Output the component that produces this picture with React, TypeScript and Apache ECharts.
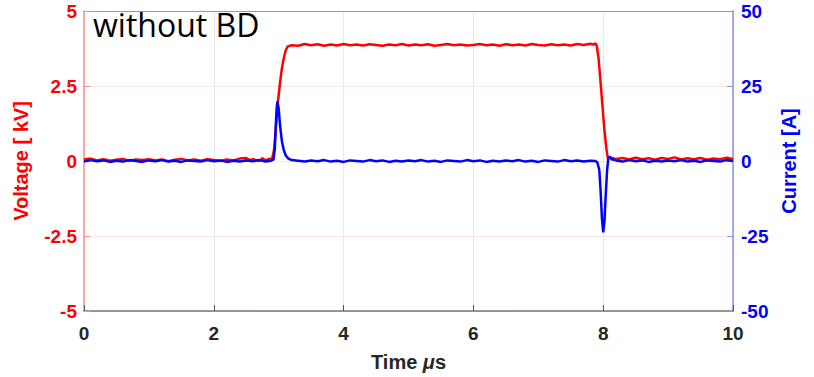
import React, { useEffect, useRef } from "react";
import * as echarts from "echarts";

// Time [µs], Voltage [kV]
const voltageData: [number, number][] = [
  [0, 0.05], [0.1, 0.08], [0.2, 0.02], [0.3, 0.06], [0.4, 0.01], [0.5, 0.04], [0.6, 0.07], [0.7, 0.0],
  [0.8, 0.05], [0.9, 0.03], [1.0, 0.06], [1.1, 0.02], [1.2, 0.05], [1.3, -0.01], [1.4, 0.04], [1.5, 0.07],
  [1.6, 0.02], [1.7, 0.05], [1.8, 0.01], [1.9, 0.06], [2.0, 0.03], [2.1, 0.0], [2.2, 0.05], [2.3, 0.02],
  [2.4, 0.08], [2.5, 0.1], [2.55, 0.03], [2.6, 0.06], [2.7, 0.0], [2.75, 0.09], [2.8, 0.02], [2.85, 0.07],
  [2.9, 0.08], [2.93, 0.4], [2.96, 1.2], [2.99, 2.0], [3.02, 2.6], [3.05, 3.1], [3.08, 3.45], [3.11, 3.7],
  [3.14, 3.82], [3.2, 3.86], [3.3, 3.84], [3.4, 3.9], [3.5, 3.86], [3.6, 3.89], [3.7, 3.84], [3.8, 3.88],
  [3.9, 3.85], [4.0, 3.9], [4.1, 3.86], [4.2, 3.88], [4.3, 3.85], [4.4, 3.89], [4.5, 3.87], [4.6, 3.84],
  [4.7, 3.88], [4.8, 3.86], [4.9, 3.9], [5.0, 3.85], [5.1, 3.88], [5.2, 3.86], [5.3, 3.89], [5.4, 3.84],
  [5.5, 3.87], [5.6, 3.9], [5.7, 3.86], [5.8, 3.88], [5.9, 3.85], [6.0, 3.87], [6.1, 3.9], [6.2, 3.86],
  [6.3, 3.88], [6.4, 3.84], [6.5, 3.89], [6.6, 3.86], [6.7, 3.88], [6.8, 3.85], [6.9, 3.9], [7.0, 3.87],
  [7.1, 3.85], [7.2, 3.89], [7.3, 3.86], [7.4, 3.88], [7.5, 3.85], [7.6, 3.9], [7.7, 3.87], [7.8, 3.91],
  [7.85, 3.88], [7.88, 3.92], [7.9, 3.85], [7.93, 3.4], [7.96, 2.6], [7.99, 1.8], [8.02, 1.0], [8.05, 0.4],
  [8.07, 0.1], [8.1, 0.12], [8.2, 0.07], [8.3, 0.1], [8.4, 0.05], [8.5, 0.11], [8.6, 0.06], [8.7, 0.09],
  [8.8, 0.04], [8.9, 0.1], [9.0, 0.07], [9.1, 0.12], [9.2, 0.05], [9.3, 0.09], [9.4, 0.06], [9.5, 0.1],
  [9.6, 0.04], [9.7, 0.08], [9.8, 0.06], [9.9, 0.11], [10.0, 0.07],
];

// Time [µs], Current [A]
const currentData: [number, number][] = [
  [0, -0.2], [0.1, 0.3], [0.2, -0.1], [0.3, 0.2], [0.4, -0.3], [0.5, 0.1], [0.6, -0.2], [0.7, 0.3],
  [0.8, 0.0], [0.9, -0.3], [1.0, 0.2], [1.1, -0.1], [1.2, 0.3], [1.3, -0.2], [1.4, 0.1], [1.5, -0.3],
  [1.6, 0.2], [1.7, 0.0], [1.8, -0.2], [1.9, 0.3], [2.0, -0.1], [2.1, 0.2], [2.2, -0.3], [2.3, 0.1],
  [2.4, -0.2], [2.5, 0.2], [2.6, -0.1], [2.7, 0.3], [2.8, -0.2], [2.88, 0.1], [2.92, 0.5], [2.94, 4],
  [2.96, 14], [2.97, 18], [2.98, 19.8], [3.0, 17.5], [3.02, 12], [3.05, 6.5], [3.08, 3.5], [3.11, 1.8],
  [3.15, 0.8], [3.2, 0.3], [3.3, 0.1], [3.4, -0.2], [3.5, 0.2], [3.6, -0.1], [3.7, 0.3], [3.8, -0.2],
  [3.9, 0.1], [4.0, -0.3], [4.1, 0.2], [4.2, 0.0], [4.3, -0.2], [4.4, 0.3], [4.5, -0.1], [4.6, 0.2],
  [4.7, -0.3], [4.8, 0.1], [4.9, -0.2], [5.0, 0.2], [5.1, -0.1], [5.2, 0.3], [5.3, -0.2], [5.4, 0.1],
  [5.5, -0.3], [5.6, 0.2], [5.7, 0.0], [5.8, -0.2], [5.9, 0.3], [6.0, -0.1], [6.1, 0.2], [6.2, -0.3],
  [6.3, 0.1], [6.4, -0.2], [6.5, 0.2], [6.6, -0.1], [6.7, 0.3], [6.8, -0.2], [6.9, 0.1], [7.0, -0.3],
  [7.1, 0.2], [7.2, 0.0], [7.3, -0.2], [7.4, 0.3], [7.5, -0.1], [7.6, 0.2], [7.7, -0.2], [7.8, 0.1],
  [7.88, 0.0], [7.91, -0.5], [7.94, -3], [7.96, -10], [7.98, -19], [8.0, -23.8], [8.02, -20], [8.04, -11],
  [8.06, -3], [8.08, 1], [8.1, 1.5], [8.13, 0.6], [8.2, 0.2], [8.3, -0.2], [8.4, 0.3], [8.5, -0.1],
  [8.6, 0.2], [8.7, -0.3], [8.8, 0.1], [8.9, -0.2], [9.0, 0.2], [9.1, -0.1], [9.2, 0.3], [9.3, -0.2],
  [9.4, 0.1], [9.5, -0.3], [9.6, 0.2], [9.7, 0.0], [9.8, -0.2], [9.9, 0.3], [10.0, 0.0],
];

const xTicks = { min: 0, max: 10, interval: 2 };
const voltageTicks = { min: -5, max: 5, interval: 2.5 };
const currentTicks = { min: -50, max: 50, interval: 25 };

const FONT = "'Liberation Sans', Arial, sans-serif";

export default function App() {
  const ref = useRef<HTMLDivElement>(null);

  useEffect(() => {
    if (!ref.current) return;
    const chart = echarts.init(ref.current, undefined, { renderer: "svg" });
    chart.setOption({
      animation: false,
      backgroundColor: "#ffffff",
      title: {
        text: "without BD",
        left: 88,
        top: 3,
        textStyle: { fontFamily: "'Open Sans', sans-serif", fontSize: 32, fontWeight: "normal", color: "#000" },
      },
      grid: { left: 84, right: 81, top: 11, bottom: 64, containLabel: false },
      xAxis: [
        {
          type: "value",
          ...xTicks,
          position: "bottom",
          name: "Time {i|μ}s",
          nameLocation: "middle",
          nameGap: 41,
          nameTextStyle: {
            fontFamily: FONT, fontSize: 20, fontWeight: "bold", color: "#262626",
            rich: { i: { fontFamily: FONT, fontSize: 20, fontWeight: "bold", fontStyle: "italic", color: "#262626" } },
          },
          axisLine: { show: true, onZero: false, lineStyle: { color: "#777", width: 1.5 } },
          axisTick: { show: true, inside: true, length: 6, lineStyle: { color: "#555" } },
          axisLabel: { fontFamily: FONT, fontSize: 19, fontWeight: "bold", color: "#262626", margin: 13 },
          splitLine: { show: true, lineStyle: { color: "#e8e8e8", width: 1 } },
        },
        {
          type: "value",
          ...xTicks,
          position: "top",
          axisLine: { show: true, onZero: false, lineStyle: { color: "#999", width: 1 } },
          axisTick: { show: false },
          axisLabel: { show: false },
          splitLine: { show: false },
        },
      ],
      yAxis: [
        {
          type: "value",
          ...voltageTicks,
          position: "left",
          name: "Voltage [ kV]",
          nameLocation: "middle",
          nameRotate: 90,
          nameGap: 53,
          nameTextStyle: { fontFamily: FONT, fontSize: 20, fontWeight: "bold", color: "#ff0000" },
          axisLine: { show: true, onZero: false, lineStyle: { color: "#ff8c8c", width: 1.5 } },
          axisTick: { show: true, inside: true, length: 6, lineStyle: { color: "#ff8c8c" } },
          axisLabel: { fontFamily: FONT, fontSize: 19, fontWeight: "bold", color: "#ff0000", margin: 7 },
          splitLine: { show: true, lineStyle: { color: "#ffe4e4", width: 1 } },
        },
        {
          type: "value",
          ...currentTicks,
          position: "right",
          name: "Current [A]",
          nameLocation: "middle",
          nameRotate: 90,
          nameGap: 45,
          nameTextStyle: { fontFamily: FONT, fontSize: 20, fontWeight: "bold", color: "#0000ff" },
          axisLine: { show: true, onZero: false, lineStyle: { color: "#8c8cff", width: 1.5 } },
          axisTick: { show: true, inside: true, length: 6, lineStyle: { color: "#8c8cff" } },
          axisLabel: { fontFamily: FONT, fontSize: 19, fontWeight: "bold", color: "#0000ff", margin: 8 },
          splitLine: { show: false },
        },
      ],
      series: [
        {
          type: "line",
          name: "Voltage",
          xAxisIndex: 0,
          yAxisIndex: 0,
          data: voltageData,
          showSymbol: false,
          lineStyle: { color: "#ff0000", width: 2.5 },
          z: 2,
        },
        {
          type: "line",
          name: "Current",
          xAxisIndex: 0,
          yAxisIndex: 1,
          data: currentData,
          showSymbol: false,
          lineStyle: { color: "#0000ff", width: 2.5 },
          z: 3,
        },
      ],
    });
    return () => chart.dispose();
  }, []);

  return (
    <div
      ref={ref}
      style={{ position: "fixed", left: 0, top: 0, width: 814, height: 377 }}
    />
  );
}
